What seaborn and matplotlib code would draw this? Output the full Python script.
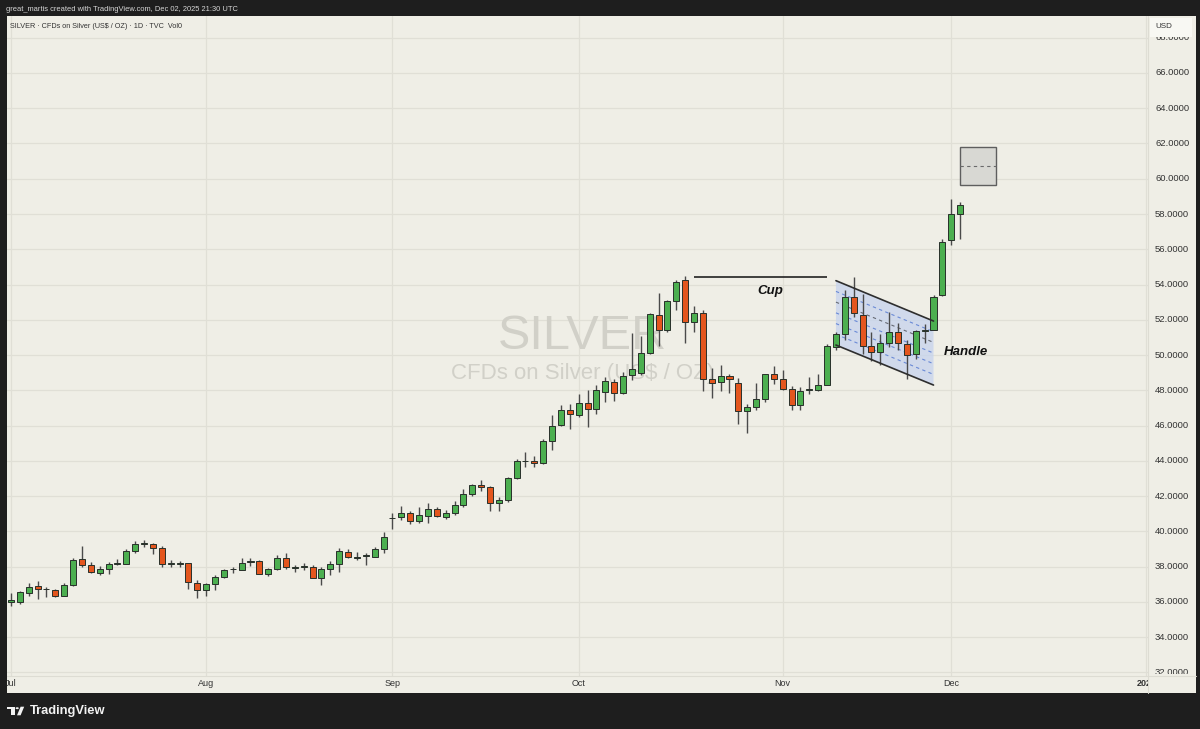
import numpy as np
import pandas as pd
import matplotlib
matplotlib.use("Agg")
import matplotlib.pyplot as plt
from matplotlib.patches import Rectangle, Polygon, Circle
from matplotlib.transforms import Bbox, TransformedBbox, blended_transform_factory
import seaborn as sns

# ---------------- data ----------------
opens = [36.00, 36.00, 36.53, 36.91, 36.72, 36.70, 36.33, 36.95, 38.42, 38.10,
         37.66, 37.89, 38.16, 38.17, 38.91, 39.30, 39.28, 39.05, 38.16, 38.16,
         38.19, 37.10, 36.70, 37.00, 37.43, 37.84, 37.81, 38.29, 38.30, 37.56,
         37.87, 38.50, 37.95, 37.99, 37.98, 37.33, 37.89, 38.15, 38.86, 38.52,
         38.60, 38.57, 38.99, 40.74, 40.79, 41.07, 40.60, 40.88, 41.28, 40.79,
         41.07, 41.49, 42.12, 42.61, 42.50, 41.60, 41.76, 43.05, 43.97, 44.00,
         43.86, 45.12, 46.05, 46.90, 46.58, 47.26, 46.96, 47.90, 48.45, 47.85,
         48.85, 48.98, 50.13, 52.30, 51.43, 53.04, 54.23, 51.87, 52.40, 48.66,
         48.47, 48.81, 48.43, 46.83, 47.06, 47.53, 48.91, 48.66, 48.06, 47.15,
         48.04, 48.00, 48.32, 50.45, 51.22, 53.27, 52.30, 50.52, 50.19, 50.71,
         51.32, 50.62, 50.05, 51.34, 51.45, 53.40, 56.50, 57.99]
highs = [36.50, 36.60, 37.09, 37.20, 36.85, 36.76, 37.10, 38.50, 39.18, 38.29,
         38.06, 38.25, 38.42, 38.99, 39.43, 39.52, 39.34, 39.18, 38.38, 38.34,
         38.23, 37.24, 37.08, 37.52, 37.86, 37.98, 38.48, 38.48, 38.38, 37.94,
         38.67, 38.76, 38.10, 38.23, 38.10, 38.00, 38.30, 39.05, 39.00, 38.82,
         38.76, 39.14, 39.96, 41.02, 41.42, 41.17, 41.40, 41.60, 41.40, 41.24,
         41.74, 42.40, 42.69, 42.93, 42.60, 41.93, 43.07, 44.08, 44.49, 44.30,
         45.25, 46.60, 47.18, 47.20, 47.81, 48.04, 48.30, 48.75, 48.66, 49.04,
         51.25, 51.10, 52.40, 53.53, 53.13, 54.23, 54.47, 52.80, 52.57, 49.28,
         49.45, 48.94, 48.72, 47.25, 48.43, 48.95, 49.36, 49.13, 48.24, 48.19,
         48.75, 48.90, 50.64, 51.30, 53.68, 54.44, 53.49, 51.32, 51.19, 52.45,
         51.83, 50.85, 51.45, 51.79, 53.40, 56.56, 58.88, 58.69]
lows = [35.75, 35.90, 36.36, 36.17, 36.30, 36.26, 36.32, 36.92, 37.98, 37.62,
        37.55, 37.58, 38.08, 38.13, 38.76, 39.10, 38.72, 37.96, 37.96, 37.96,
        36.76, 36.23, 36.36, 36.68, 37.38, 37.62, 37.81, 38.04, 37.58, 37.47,
        37.81, 37.85, 37.70, 37.81, 37.33, 36.95, 37.55, 37.70, 38.48, 38.38,
        38.10, 38.57, 38.76, 40.13, 40.64, 40.41, 40.50, 40.50, 40.79, 40.73,
        40.92, 41.40, 42.02, 42.27, 41.13, 41.17, 41.68, 43.00, 43.64, 43.68,
        43.83, 44.60, 46.00, 45.82, 46.50, 45.90, 46.67, 47.34, 47.38, 47.81,
        48.57, 48.85, 50.08, 50.49, 51.30, 52.53, 50.68, 51.30, 47.94, 47.58,
        47.96, 47.85, 46.11, 45.58, 46.87, 47.34, 48.38, 48.00, 46.90, 46.90,
        47.81, 47.96, 48.28, 50.30, 50.88, 52.17, 50.05, 49.67, 49.43, 50.47,
        50.28, 48.67, 49.75, 50.66, 51.40, 53.36, 56.23, 56.61]
closes = [36.10, 36.55, 36.82, 36.76, 36.74, 36.33, 36.95, 38.38, 38.11, 37.67,
          37.89, 38.13, 38.18, 38.90, 39.28, 39.32, 39.05, 38.15, 38.18, 38.18,
          37.14, 36.70, 37.00, 37.39, 37.81, 37.86, 38.23, 38.31, 37.58, 37.87,
          38.50, 38.00, 37.97, 38.01, 37.37, 37.89, 38.15, 38.90, 38.53, 38.54,
          38.68, 38.99, 39.71, 40.78, 41.07, 40.60, 40.92, 41.26, 40.87, 41.05,
          41.47, 42.10, 42.65, 42.50, 41.62, 41.78, 43.03, 44.02, 44.00, 43.88,
          45.15, 46.00, 46.90, 46.67, 47.30, 46.96, 48.00, 48.53, 47.85, 48.83,
          49.23, 50.11, 52.34, 51.43, 53.04, 54.13, 51.87, 52.38, 48.66, 48.43,
          48.81, 48.62, 46.83, 47.06, 47.49, 48.91, 48.66, 48.06, 47.15, 47.96,
          48.08, 48.32, 50.49, 51.17, 53.30, 52.36, 50.52, 50.19, 50.70, 51.30,
          50.66, 50.00, 51.34, 51.45, 53.30, 56.42, 57.99, 58.50]

month_labels = ["Jul", "Aug", "Sep", "Oct", "Nov", "Dec", "2026"]
month_pos = [0, 22, 43, 64, 87, 106, 128]
price_ticks = list(range(32, 70, 2))

cup_level = 54.43
cup_span = [77, 92]
channel_x = [93, 104]
channel_upper = [54.22, 51.93]
channel_lower = [50.57, 48.30]
target_x = [107, 111.05]
target_y = [59.65, 61.78]
target_mid = 60.74

# ---------------- style ----------------
sns.set_theme(style="white")
plt.rcParams['font.family'] = ['Liberation Sans', 'DejaVu Sans']

BG = '#efeee6'
DARK = '#1e1e1e'
GRID = '#e0dfd6'
W, H = 1200, 729


def fx(px):
    return px / W


def fy(py):
    return 1 - py / H


fig = plt.figure(figsize=(12, 7.29), dpi=100, facecolor=DARK)
fig.patches.append(Rectangle((fx(7), fy(693)), fx(1196) - fx(7), fy(16) - fy(693),
                             transform=fig.transFigure, facecolor=BG,
                             edgecolor='none', zorder=-5))

ax = fig.add_axes([fx(7), fy(676), fx(1148) - fx(7), fy(16) - fy(676)])
ax.set_facecolor(BG)
for s in ax.spines.values():
    s.set_visible(False)
ax.set_xticks([])
ax.set_yticks([])
ax.set_xlim(-0.451, 128.18)
ax.set_ylim(31.80, 69.23)

# grid
ax.hlines(price_ticks, -1, 130, color=GRID, lw=0.9, zorder=0)
ax.vlines(month_pos, 30, 70, color=GRID, lw=0.9, zorder=0)

# watermark
ax.text(64.4, 51.08, "SILVER", fontsize=35, color='#d1d0c8', ha='center',
        va='center', zorder=0.5)
ax.text(64.4, 48.98, "CFDs on Silver (US$ / OZ)", fontsize=16, color='#d1d0c8',
        ha='center', va='center', zorder=0.5)

# channel (handle)
band = Polygon([(channel_x[0], channel_upper[0]), (channel_x[1], channel_upper[1]),
                (channel_x[1], channel_lower[1]), (channel_x[0], channel_lower[0])],
               closed=True, facecolor='#c6d3ee', edgecolor='none', alpha=0.75, zorder=1)
ax.add_patch(band)
for k in range(1, 6):
    f = k / 6
    y0 = channel_upper[0] + f * (channel_lower[0] - channel_upper[0])
    y1 = channel_upper[1] + f * (channel_lower[1] - channel_upper[1])
    col = '#666a74' if k == 2 else '#6a8ad6'
    ax.plot(channel_x, [y0, y1], color=col, lw=0.8, ls=(0, (3, 3)), zorder=1.5)
ax.plot(channel_x, channel_upper, color='#2e2e2e', lw=1.2, zorder=5)
ax.plot(channel_x, channel_lower, color='#2e2e2e', lw=1.2, zorder=5)

# candles
df = pd.DataFrame({'open': opens, 'high': highs, 'low': lows, 'close': closes})
df['x'] = np.arange(len(df))
up = df['close'] >= df['open']
colors = np.where(up, '#4caf50', '#e4561e')
ax.vlines(df['x'], df['low'], df['high'], color='#4a4a4a', lw=1.0, zorder=3)
ax.bar(df['x'], (df['close'] - df['open']).abs().clip(lower=0.04),
       bottom=df[['open', 'close']].min(axis=1), width=0.68, color=colors,
       edgecolor='#28302a', linewidth=0.7, zorder=4)

# cup line + labels
ax.hlines(cup_level, cup_span[0], cup_span[1], color='#222222', lw=1.2, zorder=5)
ax.text(85.6, 53.64, "Cup", fontsize=9.5, fontweight='bold', fontstyle='italic',
        color='#111111', ha='center', va='center', zorder=6)
ax.text(107.7, 50.17, "Handle", fontsize=9.5, fontweight='bold', fontstyle='italic',
        color='#111111', ha='center', va='center', zorder=6)

# target box
ax.add_patch(Rectangle((target_x[0], target_y[0]), target_x[1] - target_x[0],
                       target_y[1] - target_y[0], facecolor='#d8d8d3',
                       edgecolor='#5e5e5e', lw=1.0, zorder=5))
ax.hlines(target_mid, target_x[0], target_x[1], color='#6a6a6a', lw=0.8,
          ls=(0, (3, 3)), zorder=6)

# separators
fig.lines.append(plt.Line2D([fx(1148), fx(1148)], [fy(693), fy(16)],
                            transform=fig.transFigure, color='#dddcd3', lw=0.8))
fig.lines.append(plt.Line2D([fx(7), fx(1196)], [fy(676), fy(676)],
                            transform=fig.transFigure, color='#dddcd3', lw=0.8))

# price labels (right)
ytrans = blended_transform_factory(fig.transFigure, ax.transData)
pclip = TransformedBbox(Bbox([[fx(1148), fy(674)], [fx(1196), fy(16)]]), fig.transFigure)
for p in price_ticks:
    t = fig.text(fx(1155), p, f"{p:.4f}", transform=ytrans, ha='left', va='center',
                 fontsize=6.8, color='#333333')
    t.set_clip_box(pclip)
    t.set_clip_on(True)

# USD box (covers the top price label partially)
fig.patches.append(Rectangle((fx(1150), fy(36.5)), fx(1192) - fx(1150), fy(18) - fy(36.5),
                             transform=fig.transFigure, facecolor='#f8f8f3',
                             edgecolor='none', zorder=4))
fig.text(fx(1164), fy(26), "USD", ha='center', va='center', fontsize=5.8,
         color='#333333', zorder=5)

# time labels
xtrans = blended_transform_factory(ax.transData, fig.transFigure)
tclip = TransformedBbox(Bbox([[fx(7), fy(693)], [fx(1148), fy(676)]]), fig.transFigure)
for lab, pos in zip(month_labels, month_pos):
    t = fig.text(pos, fy(684), lab, transform=xtrans, ha='center', va='center',
                 fontsize=6.5, color='#333333',
                 fontweight='bold' if lab == "2026" else 'normal')
    t.set_clip_box(tclip)
    t.set_clip_on(True)

# header / legend
fig.text(fx(6), fy(9.5), "great_martis created with TradingView.com, Dec 02, 2025 21:30 UTC",
         ha='left', va='center', fontsize=5.45, color='#d8d8d8')
fig.text(fx(10), fy(26), "SILVER \u00b7 CFDs on Silver (US$ / OZ) \u00b7 1D \u00b7 TVC  Vol0",
         ha='left', va='center', fontsize=5.25, color='#333333')

# footer logo
logo_c = '#f2f2f2'
fig.patches.append(Rectangle((fx(7.3), fy(709.3)), fx(15) - fx(7.3), fy(706.7) - fy(709.3),
                             transform=fig.transFigure, facecolor=logo_c, edgecolor='none'))
fig.patches.append(Rectangle((fx(11), fy(715.3)), fx(15) - fx(11), fy(706.7) - fy(715.3),
                             transform=fig.transFigure, facecolor=logo_c, edgecolor='none'))
fig.patches.append(Circle((fx(17.2), fy(708.2)), 1.6 / W, transform=fig.transFigure,
                          facecolor=logo_c, edgecolor='none'))
fig.patches.append(Polygon([(fx(17.0), fy(715.3)), (fx(20.6), fy(715.3)),
                            (fx(24.2), fy(706.7)), (fx(20.6), fy(706.7))],
                           closed=True, transform=fig.transFigure, facecolor=logo_c,
                           edgecolor='none'))
fig.text(fx(29.5), fy(711.2), "TradingView", ha='left', va='center', fontsize=9.3,
         color='#f2f2f2', fontweight='bold')

fig.savefig("out.png", dpi=100, facecolor=DARK)
